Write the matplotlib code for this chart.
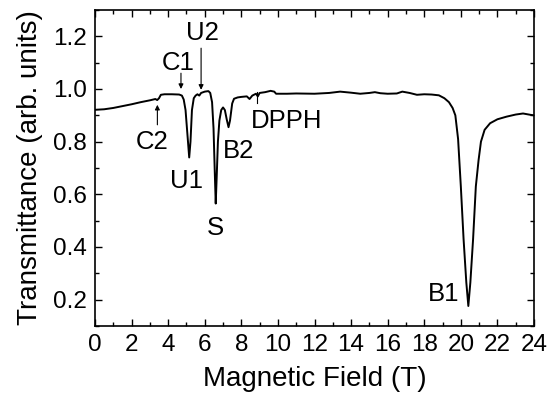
import matplotlib
matplotlib.use("Agg")
import matplotlib.pyplot as plt
from matplotlib.ticker import MultipleLocator

plt.rcParams['font.family'] = ['Liberation Sans', 'DejaVu Sans']

field = [0.0, 0.5, 1.0, 1.5, 2.0, 2.5, 3.0, 3.3, 3.4, 3.5, 3.6, 3.8, 4.2, 4.6,
         4.75, 4.85, 4.95, 5.05, 5.15, 5.22, 5.3, 5.4, 5.5, 5.6, 5.7, 5.8, 6.0,
         6.2, 6.3, 6.4, 6.48, 6.55, 6.6, 6.65, 6.72, 6.8, 6.9, 7.0, 7.1, 7.2,
         7.3, 7.38, 7.5, 7.6, 7.8, 8.0, 8.3, 8.45, 8.6, 8.8, 8.9, 9.0, 9.3, 9.6,
         9.8, 9.9, 10.5, 11.0, 12.0, 12.8, 13.4, 14.0, 14.5, 15.0, 15.3, 15.6,
         16.0, 16.5, 16.8, 17.2, 17.6, 18.0, 18.4, 18.8, 19.1, 19.35, 19.55,
         19.7, 19.85, 20.0, 20.15, 20.3, 20.41, 20.52, 20.67, 20.82, 20.97,
         21.1, 21.3, 21.6, 22.0, 22.5, 23.0, 23.4, 23.8, 24.0]
transmittance = [0.921, 0.923, 0.928, 0.935, 0.942, 0.950, 0.957, 0.962, 0.958,
                 0.965, 0.978, 0.980, 0.980, 0.979, 0.975, 0.960, 0.920, 0.830,
                 0.740, 0.800, 0.920, 0.965, 0.975, 0.980, 0.975, 0.985, 0.990,
                 0.992, 0.985, 0.950, 0.850, 0.680, 0.565, 0.660, 0.800, 0.880,
                 0.920, 0.930, 0.920, 0.885, 0.855, 0.880, 0.945, 0.963, 0.968,
                 0.970, 0.972, 0.962, 0.975, 0.982, 0.972, 0.985, 0.988, 0.993,
                 0.990, 0.982, 0.982, 0.983, 0.982, 0.985, 0.990, 0.986, 0.982,
                 0.985, 0.988, 0.984, 0.982, 0.983, 0.990, 0.985, 0.978, 0.980,
                 0.979, 0.976, 0.965, 0.950, 0.928, 0.900, 0.810, 0.630, 0.430,
                 0.265, 0.176, 0.265, 0.430, 0.630, 0.730, 0.800, 0.845, 0.870,
                 0.885, 0.895, 0.903, 0.907, 0.902, 0.900]

labels = ["U2", "C1", "C2", "U1", "B2", "DPPH", "S", "B1"]
label_x = [5.9, 4.55, 3.1, 5.0, 7.83, 10.48, 6.56, 19.05]
label_y = [1.213, 1.098, 0.80, 0.65, 0.763, 0.877, 0.474, 0.22]

arrow_names = ["C2", "C1", "U2"]
arrow_x = [3.41, 4.70, 5.80]
arrow_from = [0.864, 1.06, 1.155]
arrow_to = [0.94, 1.0, 0.997]
dpph_x = 8.84
dpph_y = [0.99, 0.947]

W, H = 549, 398
fig = plt.figure(figsize=(W / 100, H / 100), dpi=100)
ax = fig.add_axes([95 / W, 1 - 326 / H, (534 - 95) / W, (326 - 10) / H])

ax.plot(field, transmittance, color='black', lw=1.4)

for name, x, y in zip(labels, label_x, label_y):
    ax.text(x, y, name, ha='center', va='center', fontsize=18.5)

for x, y0, y1 in zip(arrow_x, arrow_from, arrow_to):
    ax.annotate('', xy=(x, y1), xytext=(x, y0),
                arrowprops=dict(arrowstyle='-|>', color='black', lw=0.8,
                                mutation_scale=7, shrinkA=0, shrinkB=0))
ax.plot([dpph_x, dpph_x], dpph_y, color='black', lw=0.8)

ax.set_xlim(0, 24)
ax.set_ylim(0.1, 1.3)
ax.xaxis.set_major_locator(MultipleLocator(2))
ax.xaxis.set_minor_locator(MultipleLocator(1))
ax.yaxis.set_major_locator(MultipleLocator(0.2))
ax.yaxis.set_minor_locator(MultipleLocator(0.1))
ax.set_yticks([0.2, 0.4, 0.6, 0.8, 1.0, 1.2])
ax.tick_params(which='both', direction='in', top=True, right=True, labelsize=17.5,
               width=1.0)
ax.tick_params(which='major', length=5, pad=6)
ax.tick_params(which='minor', length=3)
for s in ax.spines.values():
    s.set_linewidth(1.2)

ax.set_xlabel('Magnetic Field (T)', fontsize=20, labelpad=7)
ax.set_ylabel('Transmittance (arb. units)', fontsize=20, labelpad=7)

fig.savefig('out.png', dpi=100)
